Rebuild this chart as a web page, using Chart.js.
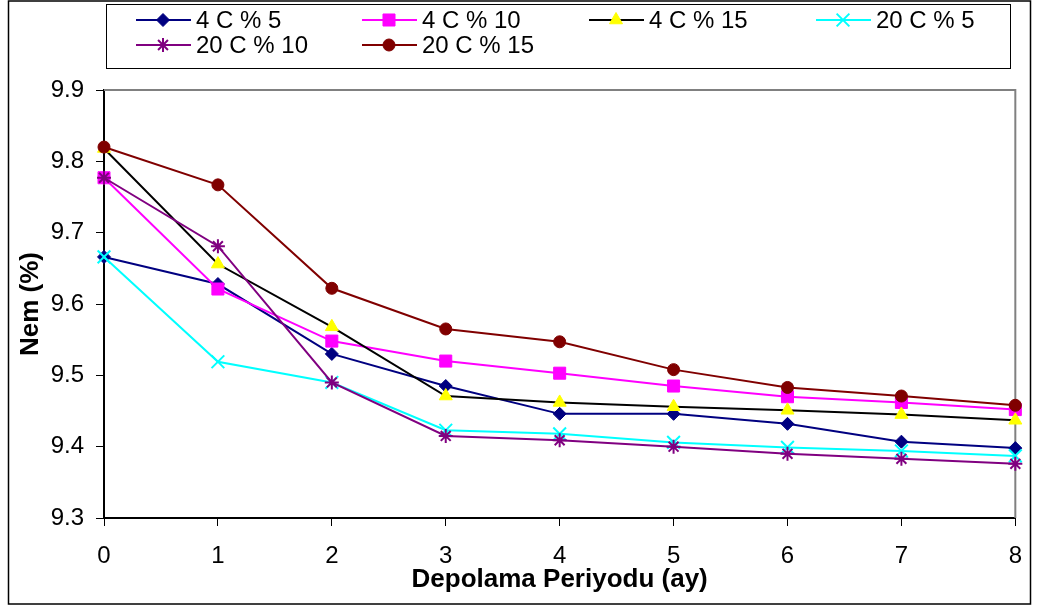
<!DOCTYPE html>
<html>
<head>
<meta charset="utf-8">
<title>Nem (%) - Depolama Periyodu</title>
<script src="https://cdn.jsdelivr.net/npm/chart.js@4/dist/chart.umd.min.js"></script>
<style>
  html, body { margin: 0; padding: 0; background: #fff; }
  canvas { display: block; }
</style>
</head>
<body>
<canvas id="chart" width="1038" height="607"></canvas>
<script>
// Storage period (months) and y-axis tick values
const categories = ['0', '1', '2', '3', '4', '5', '6', '7', '8'];
const yTickValues = [9.3, 9.4, 9.5, 9.6, 9.7, 9.8, 9.9];

// Moisture (%) per storage temperature / ratio
const nem4C5   = [9.666, 9.628, 9.530, 9.485, 9.446, 9.446, 9.432, 9.407, 9.398];
const nem4C10  = [9.777, 9.621, 9.548, 9.520, 9.503, 9.485, 9.470, 9.462, 9.452];
const nem4C15  = [9.818, 9.656, 9.568, 9.471, 9.462, 9.456, 9.451, 9.445, 9.437];
const nem20C5  = [9.666, 9.519, 9.490, 9.423, 9.418, 9.406, 9.399, 9.394, 9.387];
const nem20C10 = [9.777, 9.681, 9.490, 9.415, 9.409, 9.400, 9.390, 9.383, 9.376];
const nem20C15 = [9.820, 9.767, 9.622, 9.565, 9.547, 9.508, 9.483, 9.471, 9.458];

const seriesNames = ['4 C % 5', '4 C % 10', '4 C % 15', '20 C % 5', '20 C % 10', '20 C % 15'];

const FONT = "'Liberation Sans', Arial, sans-serif";

function series(label, data, line, fill, style, radius, order) {
  return {
    label, data,
    borderColor: line,
    borderWidth: 2,
    backgroundColor: fill,
    pointBackgroundColor: fill,
    pointBorderColor: fill,
    pointBorderWidth: (style === 'star' || style === 'crossRot') ? 2 : 1,
    pointStyle: style,
    pointRadius: radius,
    pointHoverRadius: radius,
    tension: 0,
    fill: false,
    clip: false,
    order
  };
}

const datasets = [
  series(seriesNames[0], nem4C5,   '#000080', '#000080', 'rectRot',  6.5, 6),
  series(seriesNames[1], nem4C10,  '#FF00FF', '#FF00FF', 'rect',     8.5, 5),
  series(seriesNames[2], nem4C15,  '#000000', '#FFFF00', 'triangle', 7.5, 4),
  series(seriesNames[3], nem20C5,  '#00FFFF', '#00FFFF', 'crossRot', 9,   3),
  series(seriesNames[4], nem20C10, '#800080', '#800080', 'star',     7,   2),
  series(seriesNames[5], nem20C15, '#800000', '#800000', 'circle',   6,   1)
];

// Legend layout: column starts, row centres, and which cell each series takes
const legendCols = [136, 362, 589, 816];
const legendRows = [20, 45];
const legendCells = [[0, 0], [1, 0], [2, 0], [3, 0], [0, 1], [1, 1]];

const framePlugin = {
  id: 'frame',
  beforeDraw(chart) {
    const ctx = chart.ctx;
    ctx.save();
    ctx.fillStyle = '#fff';
    ctx.fillRect(0, 0, chart.width, chart.height);
    ctx.restore();
  },
  beforeDatasetsDraw(chart) {
    // grey top and right edges of the plot area
    const { ctx, chartArea: a } = chart;
    ctx.save();
    ctx.strokeStyle = '#808080';
    ctx.lineWidth = 2;
    ctx.beginPath();
    ctx.moveTo(a.left, a.top);
    ctx.lineTo(a.right, a.top);
    ctx.lineTo(a.right, a.bottom);
    ctx.stroke();
    ctx.restore();
  },
  afterDraw(chart) {
    const ctx = chart.ctx;
    ctx.save();
    // outer frame
    ctx.strokeStyle = '#000';
    ctx.lineWidth = 1.5;
    ctx.strokeRect(8.5, 1, 1022, 603);
    // legend box
    ctx.lineWidth = 1;
    ctx.strokeRect(106.5, 4.5, 904, 64);

    ctx.font = '24px ' + FONT;
    ctx.textAlign = 'left';
    ctx.textBaseline = 'middle';
    chart.data.datasets.forEach((ds, i) => {
      const [c, r] = legendCells[i];
      const x0 = legendCols[c];
      const y = legendRows[r];
      ctx.strokeStyle = ds.borderColor;
      ctx.lineWidth = 2;
      ctx.beginPath();
      ctx.moveTo(x0, y);
      ctx.lineTo(x0 + 55, y);
      ctx.stroke();
      ctx.fillStyle = ds.pointBackgroundColor;
      ctx.strokeStyle = ds.pointBorderColor;
      ctx.lineWidth = ds.pointBorderWidth;
      Chart.helpers.drawPoint(ctx, {
        pointStyle: ds.pointStyle,
        radius: ds.pointRadius,
        rotation: 0,
        borderWidth: ds.pointBorderWidth
      }, x0 + 27, y);
      ctx.fillStyle = '#000';
      ctx.fillText(ds.label, x0 + 60, y + 1);
    });
    ctx.restore();
  }
};

new Chart(document.getElementById('chart'), {
  type: 'line',
  data: { labels: categories, datasets },
  options: {
    responsive: false,
    animation: false,
    events: [],
    layout: { padding: { top: 90, right: 21, left: 0, bottom: 0 } },
    plugins: {
      legend: { display: false },
      tooltip: { enabled: false },
      title: { display: false }
    },
    scales: {
      x: {
        type: 'category',
        offset: false,
        grid: { drawOnChartArea: false, drawTicks: true, tickLength: 8, color: '#000', tickWidth: 1 },
        border: { display: true, color: '#000', width: 2 },
        ticks: { font: { family: FONT, size: 24 }, color: '#000', padding: 16, autoSkip: false, maxRotation: 0 },
        title: {
          display: true, text: 'Depolama Periyodu (ay)', color: '#000',
          font: { family: FONT, size: 26, weight: 'bold' },
          padding: { top: 0, bottom: 12 }
        },
        afterFit(scale) { scale.height = 89; }
      },
      y: {
        min: yTickValues[0],
        max: yTickValues[yTickValues.length - 1],
        afterBuildTicks(scale) { scale.ticks = yTickValues.map(v => ({ value: v })); },
        grid: { drawOnChartArea: false, drawTicks: true, tickLength: 8, color: '#000', tickWidth: 1 },
        border: { display: true, color: '#000', width: 2 },
        ticks: { font: { family: FONT, size: 24 }, color: '#000', padding: 12, callback: v => Number(v).toFixed(1) },
        title: {
          display: true, text: 'Nem (%)', color: '#000',
          font: { family: FONT, size: 26, weight: 'bold' },
          padding: { top: 15, bottom: 0 }
        },
        afterFit(scale) { scale.width = 104; }
      }
    }
  },
  plugins: [framePlugin]
});
</script>
</body>
</html>
